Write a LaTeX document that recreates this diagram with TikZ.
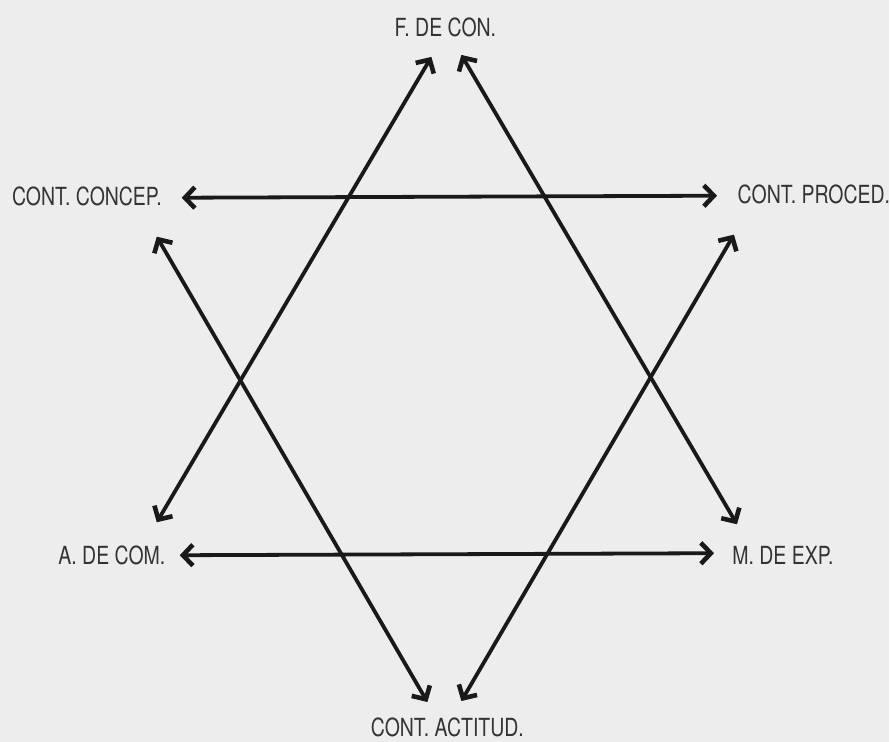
\documentclass[tikz,border=0pt]{standalone}
\usepackage{fontspec}
\setmainfont{TeX Gyre Heros}[FakeStretch=0.78]
\usetikzlibrary{arrows.meta}
\begin{document}
\begin{tikzpicture}[x=1pt,y=-1pt,
  lbl/.style={font=\fontsize{25}{28}\selectfont, text=black!80, inner sep=0pt},
  tipb/.tip={Straight Barb[length=10pt,width=21pt,line width=4.6pt]},
  arr/.style={line width=3.8pt, draw=black!90, {tipb}-{tipb}}]
\path[fill=black!7] (0,0) rectangle (890,743);
% labels
\node[lbl] (fc) at (446,27) {F. DE CON.};
\node[lbl] (cc) at (87,197) {CONT. CONCEP.};
\node[lbl] (cp) at (815,195) {CONT. PROCED.};
\node[lbl] (ac) at (112,556) {A. DE COM.};
\node[lbl] (me) at (784,556) {M. DE EXP.};
\node[lbl] (ca) at (448,728) {CONT. ACTITUD.};
% arrow end points
\coordinate (t1) at (432,57);
\coordinate (t2) at (462,55);
\coordinate (b1) at (428,703);
\coordinate (b2) at (462,702);
\coordinate (ul) at (157,237);
\coordinate (ur) at (735,235);
\coordinate (ll) at (157,523);
\coordinate (lr) at (738,525);
\coordinate (hl1) at (182,198);
\coordinate (hr1) at (718,196);
\coordinate (hl2) at (180,556);
\coordinate (hr2) at (715,554);
% arrows
\draw[arr] (hl1) -- (hr1);
\draw[arr] (hl2) -- (hr2);
\draw[arr] (ll) -- (t1);
\draw[arr] (lr) -- (t2);
\draw[arr] (ul) -- (b1);
\draw[arr] (ur) -- (b2);
\end{tikzpicture}
\end{document}
